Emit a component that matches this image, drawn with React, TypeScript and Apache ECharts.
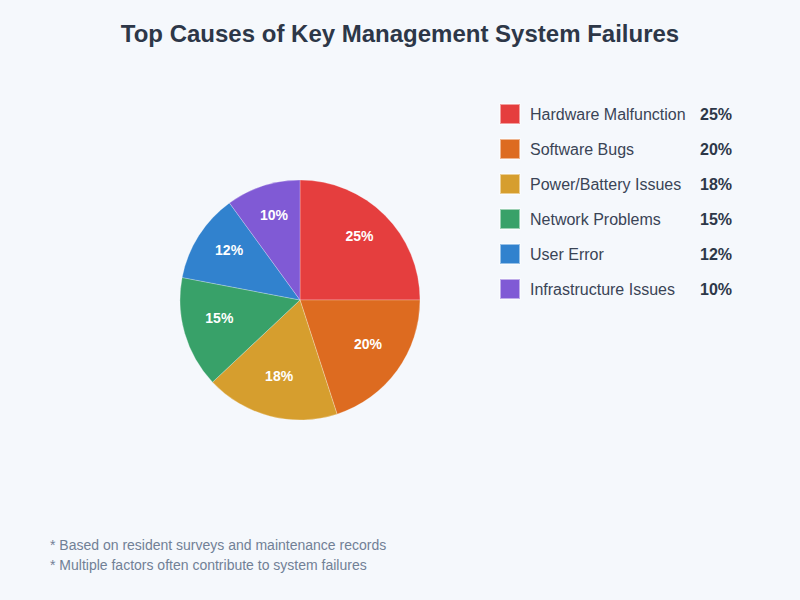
import * as echarts from "echarts";
import React, { useEffect, useRef } from "react";

const causes = [
  "Hardware Malfunction",
  "Software Bugs",
  "Power/Battery Issues",
  "Network Problems",
  "User Error",
  "Infrastructure Issues",
];
const shares = [25, 20, 18, 15, 12, 10];
const colors = ["#e53e3e", "#dd6b20", "#d69e2e", "#38a169", "#3182ce", "#805ad5"];
const notes = [
  "* Based on resident surveys and maintenance records",
  "* Multiple factors often contribute to system failures",
];

const FONT = "'Liberation Sans', Arial, sans-serif";

const App: React.FC = () => {
  const chartRef = useRef<HTMLDivElement | null>(null);

  useEffect(() => {
    document.body.style.margin = "0";
    const chart = echarts.init(chartRef.current, null, { renderer: "svg" });
    const data = causes.map((name, i) => ({
      name,
      value: shares[i],
      itemStyle: { color: colors[i] },
    }));

    chart.setOption({
      animation: false,
      backgroundColor: "#f5f8fc",
      textStyle: { fontFamily: FONT },
      title: {
        text: "Top Causes of Key Management System Failures",
        left: "center",
        top: 16,
        textStyle: { fontSize: 24, fontWeight: "bold", color: "#2d3748", fontFamily: FONT },
      },
      legend: {
        orient: "vertical",
        left: 499,
        top: 103,
        padding: 0,
        itemWidth: 20,
        itemHeight: 20,
        itemGap: 13,
        icon: "rect",
        selectedMode: false,
        data: causes,
        formatter: (name: string) => {
          const i = causes.indexOf(name);
          return `{n|${name}}{p|${shares[i]}%}`;
        },
        textStyle: {
          rich: {
            n: {
              fontSize: 16,
              lineHeight: 20,
              color: "#3a4456",
              width: 170,
              padding: [0, 0, 0, 5],
              fontFamily: FONT,
            },
            p: { fontSize: 16, lineHeight: 20, color: "#2d3748", fontWeight: "bold", fontFamily: FONT },
          },
        },
      },
      series: [
        {
          type: "pie",
          center: [300, 300],
          radius: [0, 120],
          startAngle: 90,
          clockwise: true,
          silent: true,
          label: { show: false },
          labelLine: { show: false },
          itemStyle: { borderColor: "rgba(255,255,255,0.5)", borderWidth: 0.5 },
          data,
        },
        {
          type: "pie",
          center: [300, 300],
          radius: [0, 162],
          startAngle: 90,
          clockwise: true,
          silent: true,
          legendHoverLink: false,
          itemStyle: { color: "rgba(0,0,0,0)" },
          label: {
            show: true,
            position: "inside",
            formatter: "{c}%",
            color: "#ffffff",
            fontSize: 14,
            fontWeight: "bold",
            fontFamily: FONT,
            offset: [0, -5],
          },
          labelLine: { show: false },
          data: causes.map((name, i) => ({ name: name + " ", value: shares[i] })),
        },
      ],
      graphic: notes.map((t, i) => ({
        type: "text",
        left: 50,
        top: 538 + i * 20,
        style: { text: t, fontSize: 14, fill: "#718096", fontFamily: FONT },
      })),
    });

    return () => {
      chart.dispose();
    };
  }, []);

  return (
    <div
      ref={chartRef}
      style={{ position: "absolute", left: 0, top: 0, width: "800px", height: "600px" }}
    ></div>
  );
};

export default App;
